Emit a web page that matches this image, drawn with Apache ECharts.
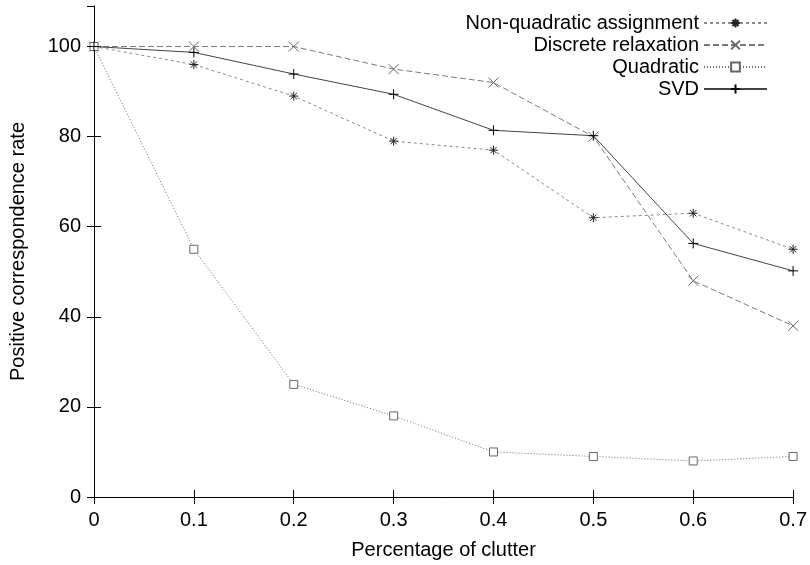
<!DOCTYPE html>
<html>
<head>
<meta charset="utf-8">
<script src="https://cdn.jsdelivr.net/npm/echarts@6/dist/echarts.min.js"></script>
<style>
html,body{margin:0;padding:0;background:#fff;}
#c{width:810px;height:565px;}
</style>
</head>
<body>
<div id="c"></div>
<script>
const clutter = [0, 0.1, 0.2, 0.3, 0.4, 0.5, 0.6, 0.7];
const nonQuadratic = [100, 96, 89, 79, 77, 62, 63, 55];
const discreteRelax = [100, 100, 100, 95, 92, 80, 48, 38];
const quadratic = [100, 55, 25, 18, 10, 9, 8, 9];
const svd = [100, 98.7, 93.9, 89.4, 81.4, 80.2, 56.3, 50.2];
const yTicks = [0, 20, 40, 60, 80, 100];

const pairs = arr => clutter.map((x, i) => [x, arr[i]]);
const FONT = 'Liberation Sans';

const chart = echarts.init(document.getElementById('c'), null, {renderer: 'canvas'});

const axisBase = {
  axisLine: {show: true, lineStyle: {color: '#000', width: 1}},
  axisTick: {show: true, inside: true, length: 7, lineStyle: {color: '#000', width: 1}},
  splitLine: {show: false}
};

chart.setOption({
  animation: false,
  backgroundColor: '#fff',
  grid: {left: 92, right: 14, top: 6, bottom: 65, containLabel: false},
  legend: {
    orient: 'vertical',
    right: 37,
    top: 8,
    align: 'right',
    itemWidth: 63,
    itemHeight: 11,
    itemGap: 2,
    textStyle: {fontFamily: FONT, fontSize: 20, color: '#000'},
    data: ['Non-quadratic assignment', 'Discrete relaxation', 'Quadratic', 'SVD']
  },
  xAxis: [
    Object.assign({}, axisBase, {
      type: 'value', min: 0, max: 0.7, interval: 0.1, position: 'bottom',
      name: 'Percentage of clutter', nameLocation: 'middle', nameGap: 43,
      nameTextStyle: {fontFamily: FONT, fontSize: 20, color: '#000'},
      axisLabel: {fontFamily: FONT, fontSize: 20, color: '#000', margin: 13}
    }),
    Object.assign({}, axisBase, {
      type: 'value', min: 0, max: 0.7, interval: 0.1, position: 'top',
      axisLabel: {show: false}
    })
  ],
  yAxis: [
    Object.assign({}, axisBase, {
      type: 'value', min: 0, max: 109, interval: 20, position: 'left',
      name: 'Positive correspondence rate', nameLocation: 'middle', nameGap: 66,
      nameTextStyle: {fontFamily: FONT, fontSize: 20, color: '#000'},
      axisLabel: {fontFamily: FONT, fontSize: 20, color: '#000', margin: 13, showMaxLabel: false,
        formatter: v => yTicks.includes(v) ? String(v) : ''}
    }),
    Object.assign({}, axisBase, {
      type: 'value', min: 0, max: 109, interval: 20, position: 'right',
      axisLabel: {show: false}
    })
  ],
  series: [
    {
      name: 'Non-quadratic assignment', type: 'line', data: pairs(nonQuadratic),
      symbol: 'path://M5,0L5,10M0,5L10,5M1.5,1.5L8.5,8.5M8.5,1.5L1.5,8.5',
      symbolSize: 9,
      lineStyle: {color: '#8a8a8a', width: 1, type: [3, 3]},
      itemStyle: {color: 'none', borderColor: '#222', borderWidth: 1}
    },
    {
      name: 'Discrete relaxation', type: 'line', data: pairs(discreteRelax),
      symbol: 'path://M0,0L10,10M10,0L0,10',
      symbolSize: 10,
      lineStyle: {color: '#7a7a7a', width: 1, type: [6, 3]},
      itemStyle: {color: 'none', borderColor: '#666', borderWidth: 1}
    },
    {
      name: 'Quadratic', type: 'line', data: pairs(quadratic),
      symbol: 'rect', symbolSize: 8,
      lineStyle: {color: '#6a6a6a', width: 1, type: [1, 2]},
      itemStyle: {color: '#fff', borderColor: '#666', borderWidth: 1}
    },
    {
      name: 'SVD', type: 'line', data: pairs(svd),
      symbol: 'path://M5,0L5,10M0,5L10,5',
      symbolSize: 10,
      lineStyle: {color: '#444', width: 1, type: 'solid'},
      itemStyle: {color: 'none', borderColor: '#000', borderWidth: 1}
    }
  ]
});
</script>
</body>
</html>
